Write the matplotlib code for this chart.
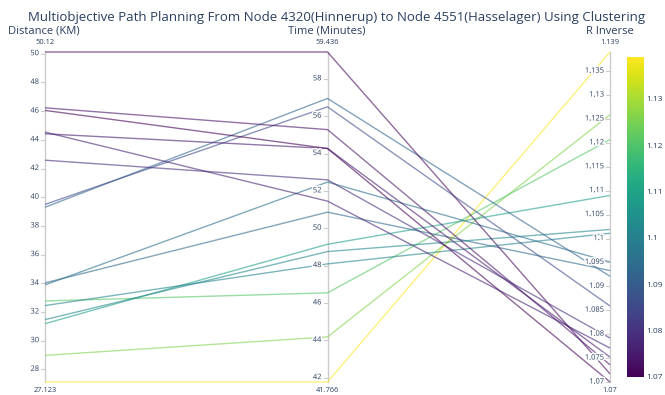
import matplotlib
matplotlib.use("Agg")
import matplotlib.pyplot as plt
import matplotlib.patheffects as pe
import numpy as np
from matplotlib import cm, colors

plt.rcParams['font.family'] = ['Open Sans', 'DejaVu Sans']

title = "Multiobjective Path Planning From Node 4320(Hinnerup) to Node 4551(Hasselager) Using Clustering"
dim_labels = ["Distance (KM)", "Time (Minutes)", "R Inverse"]

distance_km = [50.12, 46.23, 46.05, 44.42, 44.54, 42.58, 39.50, 39.30,
               34.03, 33.89, 32.45, 31.47, 31.19, 32.77, 28.98, 27.123]
time_min = [59.436, 55.28, 54.27, 54.27, 51.45, 52.59, 56.50, 56.95,
            50.86, 52.47, 48.09, 48.75, 49.14, 46.54, 44.18, 41.766]
r_inverse = [1.0717, 1.0736, 1.070, 1.0752, 1.0771, 1.0792, 1.0859, 1.0921,
             1.0933, 1.0951, 1.1011, 1.1019, 1.109, 1.1207, 1.1259, 1.139]

dims = [np.array(distance_km), np.array(time_min), np.array(r_inverse)]
tick_sets = [np.arange(28, 51, 2), np.arange(42, 59, 2),
             np.round(np.arange(1.07, 1.1351, 0.005), 3)]

txt = "#2a3f5f"
W, H = 665, 395
fig = plt.figure(figsize=(W / 100, H / 100), dpi=100)
x0, x1, y0, y1 = 45, 610, 52, 382
ax = fig.add_axes([x0 / W, 1 - y1 / H, (x1 - x0) / W, (y1 - y0) / H])
ax.set_xlim(0, 2)
ax.set_ylim(0, 1)
ax.axis('off')

lims = [(d.min(), d.max()) for d in dims]
norm_vals = [(d - lo) / (hi - lo) for d, (lo, hi) in zip(dims, lims)]

cnorm = colors.Normalize(vmin=min(r_inverse), vmax=max(r_inverse))
cmap = plt.get_cmap('viridis')

# polylines, drawn from highest R so purple lines end up on top
order = np.argsort(-dims[2])
for i in order:
    ys = [nv[i] for nv in norm_vals]
    ax.plot([0, 1, 2], ys, color=cmap(cnorm(dims[2][i])), lw=1.0, alpha=0.6,
            clip_on=False, solid_capstyle='butt', zorder=2)

halo = [pe.withStroke(linewidth=2.2, foreground='white')]
px_x = 1 / (x1 - x0) * 2  # one pixel in x data units
for k, (d, (lo, hi), ticks) in enumerate(zip(dims, lims, tick_sets)):
    ax.plot([k, k], [0, 1], color='#cccccc', lw=1.0, clip_on=False, zorder=1)
    for t in ticks:
        if lo <= t <= hi:
            yy = (t - lo) / (hi - lo)
            ax.plot([k - 4 * px_x, k], [yy, yy], color='#cccccc', lw=0.8,
                    clip_on=False, zorder=1)
            ax.text(k - 6 * px_x, yy, f"{t:g}", ha='right', va='center',
                    fontsize=5.4, color=txt, path_effects=halo, zorder=3)
    ax.text(k, 1 + 9 / (y1 - y0), f"{hi:g}", ha='center', va='center',
            fontsize=5.4, color=txt)
    ax.text(k, -8 / (y1 - y0), f"{lo:g}", ha='center', va='center',
            fontsize=5.4, color=txt)

# dimension titles
fig.text(8 / W, 1 - 31 / H, dim_labels[0], ha='left', va='center', fontsize=8.0, color=txt)
fig.text(327 / W, 1 - 31 / H, dim_labels[1], ha='center', va='center', fontsize=8.0, color=txt)
fig.text(610 / W, 1 - 31 / H, dim_labels[2], ha='center', va='center', fontsize=8.0, color=txt)

fig.text(337 / W, 1 - 17 / H, title, ha='center', va='center', fontsize=9.5, color=txt)

# colorbar
cax = fig.add_axes([627 / W, 1 - 377 / H, 17 / W, 320 / H])
cb = fig.colorbar(cm.ScalarMappable(norm=cnorm, cmap=cmap), cax=cax)
cb.outline.set_visible(False)
cb.set_ticks([1.07, 1.08, 1.09, 1.10, 1.11, 1.12, 1.13])
cb.set_ticklabels(["1.07", "1.08", "1.09", "1.1", "1.11", "1.12", "1.13"])
cax.tick_params(length=0, labelsize=6.0, labelcolor=txt, pad=1.5)

fig.savefig("out.png", dpi=100)
